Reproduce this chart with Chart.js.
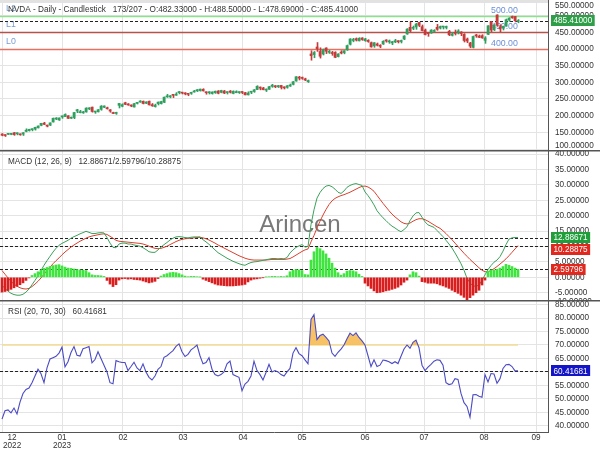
<!DOCTYPE html>
<html>
<head>
<meta charset="utf-8">
<script src="https://cdn.jsdelivr.net/npm/chart.js@4.4.1/dist/chart.umd.min.js"></script>
<style>
html,body{margin:0;padding:0;background:#ffffff;}
#wrap{position:relative;width:600px;height:450px;overflow:hidden;background:#fff;}
#wrap canvas{position:absolute;left:0;}
</style>
</head>
<body>
<div id="wrap">
  <canvas id="cPrice" width="600" height="150" style="top:0px"></canvas>
  <canvas id="cMacd" width="600" height="150" style="top:150px"></canvas>
  <canvas id="cRsi" width="600" height="150" style="top:300px"></canvas>
</div>
<script>
// ---------------- DATA ----------------
const symbolTitle = 'NVDA - Daily - Candlestick';
const barInfo = '173/207';
const lastOpen = 482.33, lastHigh = 488.5, lastLow = 478.69, lastClose = 485.41;

const monthTickIndex = [0.33, 20, 40.33, 60.33, 80.33, 100, 121, 140.67, 160.67, 178];
const monthLabels = [['12','2022'],['01','2023'],['02'],['03'],['04'],['05'],['06'],['07'],['08'],['09']];

const priceTicks = [100,150,200,250,300,350,400,450,500];
const priceTopTick = 550;
const macdTicks = [-5,0,5,10,15,20,25,30,35,40];
const macdBottomTick = -10;
const rsiTicks = [40,45,50,55,60,65,70,75,80,85];

const levelNames = ['L0','L1','L2'];
const levelValues = [400, 450, 500];

const priceOpen = [145.0,140.8,144.0,143.9,148.5,145.7,144.9,144.7,152.8,155.1,
158.0,159.6,163.5,171.0,177.6,170.0,171.8,181.0,189.9,187.1,
196.1,197.3,199.5,192.3,194.4,214.0,209.1,208.5,211.4,220.3,
225.6,211.0,211.5,219.0,225.1,222.5,217.5,208.0,206.8,231.0,
228.3,238.7,233.4,231.9,226.0,236.8,240.8,243.1,237.2,243.3,
233.0,227.1,236.3,236.1,240.2,256.4,256.5,261.8,261.3,269.2,
268.8,268.0,265.0,267.0,271.0,274.5,275.1,279.0,270.1,268.7,
266.3,269.0,273.8,270.0,273.9,269.2,273.6,266.7,269.2,269.3,
270.8,269.0,262.5,270.4,272.6,278.4,284.9,283.0,276.5,279.0,
288.0,289.5,287.0,290.7,286.0,284.9,289.0,294.0,304.0,315.4,
313.0,310.4,302.0,385.2,383.3,405.9,392.4,384.9,403.1,390.0,
389.0,389.9,377.2,390.6,389.2,397.6,414.3,425.6,430.9,424.5,
433.0,425.0,426.0,419.0,409.5,415.0,411.0,415.0,425.2,421.4,
418.2,421.0,423.0,422.5,430.0,445.0,465.0,462.0,466.0,479.6,
467.0,457.0,447.0,448.0,453.0,465.0,463.0,466.0,464.6,453.0,
441.0,450.0,448.0,451.0,444.0,430.0,418.0,404.9,440.0,439.0,
440.0,426.0,444.0,482.0,458.0,502.2,466.0,464.0,469.0,487.0,
497.4,497.6,482.33];
const priceHigh = [146.0,142.4,146.9,146.3,149.9,148.5,145.0,149.4,160.6,159.5,
160.3,165.5,169.3,177.2,180.0,171.9,178.5,193.0,194.2,193.3,
199.6,205.6,200.0,196.0,210.0,219.0,216.1,212.8,223.8,224.0,
225.9,213.0,218.6,230.3,229.5,225.7,218.4,210.5,210.5,237.0,
235.5,240.4,236.2,232.4,236.9,240.0,245.1,244.3,241.9,244.0,
236.5,234.7,241.3,243.4,256.2,263.9,260.4,262.1,269.1,272.5,
269.7,269.0,265.5,270.4,276.0,278.3,280.0,280.9,271.2,272.0,
271.6,274.0,275.4,276.4,275.8,271.2,275.6,274.5,274.7,271.4,
271.6,270.0,271.7,273.0,278.4,290.0,286.3,285.0,280.5,287.9,
294.0,290.3,291.0,291.0,286.5,290.5,295.0,302.5,317.0,318.0,
316.0,312.5,307.0,394.8,392.6,419.4,403.6,400.0,403.7,396.0,
393.0,392.0,386.0,395.0,395.0,412.0,431.0,432.0,433.2,434.0,
434.0,432.0,428.0,421.0,419.2,418.0,413.0,425.0,428.0,427.0,
422.8,429.0,425.0,427.0,440.0,461.0,480.9,469.0,477.0,480.4,
472.0,460.0,449.0,458.0,458.0,473.9,469.0,468.0,469.0,456.0,
450.0,457.0,458.0,452.0,446.0,433.0,420.0,439.0,444.0,442.0,
443.0,437.0,470.0,482.3,473.0,502.7,473.0,468.5,490.0,494.0,
499.0,498.0,488.5];
const priceLow = [139.5,137.5,143.4,142.7,140.9,142.4,141.1,140.6,151.4,153.6,
154.4,156.6,162.9,169.5,173.0,166.3,170.2,180.8,188.0,185.7,
192.0,197.1,191.6,191.3,191.0,209.0,208.3,206.9,210.2,218.0,
210.5,206.9,211.0,216.3,224.0,219.6,210.2,206.0,203.9,223.0,
226.5,233.0,231.0,226.8,225.8,234.9,240.0,235.2,236.1,231.7,
227.9,225.6,232.1,234.8,239.0,254.9,253.5,254.3,260.9,265.3,
265.2,262.4,259.8,263.9,270.5,272.3,273.5,273.6,264.3,264.9,
264.6,266.8,265.4,268.5,266.0,264.9,268.0,265.4,268.5,266.5,
265.9,262.3,261.9,266.0,270.0,278.2,277.5,277.3,272.4,278.8,
285.0,284.0,284.3,280.0,280.0,282.3,287.5,292.2,303.3,307.1,
309.0,305.0,299.5,366.4,373.8,392.8,372.6,382.0,386.2,386.6,
381.0,373.8,376.0,385.2,385.5,395.6,412.0,421.6,424.0,424.0,
426.0,423.0,420.0,405.4,405.0,409.0,404.0,413.5,420.4,417.0,
413.0,419.0,418.0,418.0,428.0,444.0,452.0,458.0,459.0,467.0,
454.0,442.0,438.0,447.0,451.0,456.0,460.0,460.0,460.0,440.0,
439.0,442.0,445.0,440.0,421.0,419.0,404.0,403.1,435.0,434.0,
432.0,417.0,443.0,452.0,455.0,468.0,452.0,457.0,468.0,483.0,
492.0,481.3,478.69];
const priceClose = [141.2,140.4,146.0,146.1,143.2,147.5,142.7,148.6,156.3,159.1,
160.0,165.1,169.0,177.0,173.8,168.7,178.4,192.2,191.9,193.2,
198.0,203.7,191.9,195.4,209.4,217.7,211.0,210.7,222.6,220.9,
212.6,211.0,217.8,228.6,229.0,220.7,213.9,206.5,207.5,236.6,
232.9,234.0,232.2,229.0,236.1,239.0,242.5,236.5,241.0,232.5,
229.6,231.6,240.6,242.3,255.4,257.3,259.0,261.0,264.8,271.9,
267.8,265.3,264.1,269.8,273.8,277.8,279.6,274.5,268.8,270.4,
270.9,273.2,267.3,275.5,267.8,270.3,270.3,273.2,271.7,270.4,
269.6,262.4,267.8,272.3,277.5,288.0,282.6,278.1,276.6,287.0,
291.5,286.7,289.9,285.0,283.4,289.5,292.1,301.8,316.8,312.6,
311.8,306.9,305.4,379.8,389.5,401.1,378.3,397.7,393.3,391.7,
386.5,374.8,385.1,387.7,394.8,410.2,430.0,426.5,426.9,432.0,
428.4,430.3,422.5,406.3,418.8,411.2,408.2,423.0,424.1,423.0,
421.8,425.0,421.8,424.0,438.9,459.8,454.7,464.6,474.9,470.8,
455.2,443.1,446.1,456.8,454.5,459.0,467.5,467.3,465.1,442.7,
445.2,446.8,454.2,446.6,425.5,423.9,408.6,437.5,439.4,434.9,
433.4,433.0,469.7,456.7,471.2,471.6,460.2,468.4,487.8,492.6,
493.6,485.1,485.41];

const macdLine = [-2.6,-3.6,-4.5,-5.2,-5.6,-5.8,-5.8,-5.5,-4.8,-3.8,
-2.4,-1.0,0.5,2.2,3.9,5.4,6.8,8.2,9.4,10.4,
11.0,11.5,12.0,12.7,13.2,13.6,14.1,14.5,14.9,14.6,
14.2,14.2,14.4,14.5,14.4,12.9,11.1,9.7,9.6,10.8,
11.1,11.1,10.8,10.8,10.5,10.3,10.1,9.6,9.0,8.3,
8.1,8.1,8.9,9.8,10.6,11.3,12.1,12.7,13.1,13.2,
13.1,12.9,12.8,13.0,13.1,13.1,13.1,12.2,11.5,10.7,
9.8,8.9,8.0,7.4,6.8,6.2,5.7,5.2,4.8,4.4,
4.1,3.9,4.4,4.8,5.0,5.1,5.3,5.5,5.7,5.9,
6.1,6.1,6.0,6.1,6.0,6.4,7.9,8.9,9.7,10.2,
10.6,9.8,10.0,17.1,21.9,25.7,27.5,28.8,29.6,29.8,
29.4,28.6,27.6,27.2,28.0,29.2,29.8,30.2,30.4,30.1,
29.8,27.7,26.5,25.1,23.5,21.6,20.4,19.3,18.4,17.4,
16.6,16.0,15.3,14.8,15.5,16.4,18.4,19.9,20.9,21.0,
19.5,18.0,17.0,16.6,16.2,15.2,14.2,13.2,12.0,10.8,
9.5,7.9,6.2,4.4,2.3,-0.3,-1.8,-2.8,-2.9,-2.5,
-1.0,0.8,2.5,3.8,4.9,5.6,6.7,8.5,10.6,12.4,
12.8,12.9,12.88671];
const macdSignal = [2.2,1.0,-0.2,-1.3,-2.2,-2.9,-3.4,-3.7,-3.8,-3.6,
-3.0,-2.2,-1.3,-0.2,1.0,2.2,3.3,4.4,5.4,6.3,
7.3,8.2,9.0,9.8,10.5,11.1,11.7,12.2,12.7,13.1,
13.4,13.6,13.8,14.0,14.1,13.9,13.3,12.7,12.0,11.7,
11.6,11.5,11.4,11.3,11.2,11.1,11.0,10.8,10.5,10.1,
9.7,9.4,9.3,9.4,9.7,10.1,10.6,11.1,11.6,12.0,
12.3,12.5,12.6,12.7,12.8,12.9,13.0,12.8,12.5,12.1,
11.6,11.1,10.5,10.0,9.5,9.0,8.5,8.0,7.5,7.0,
6.6,6.2,5.9,5.7,5.6,5.6,5.6,5.6,5.6,5.7,
5.8,5.8,5.8,5.8,5.8,5.9,6.1,6.6,7.2,7.8,
8.4,8.9,9.2,11.5,13.6,16.0,18.2,20.2,22.0,23.6,
24.8,25.6,26.1,26.5,26.8,27.2,27.6,28.1,28.6,29.1,
29.5,29.6,29.3,28.7,27.9,26.6,25.3,24.0,22.8,21.6,
20.5,19.6,18.8,18.0,17.5,17.3,17.6,18.2,18.7,19.0,
19.0,18.7,18.2,17.6,17.0,16.4,15.9,15.1,14.2,13.2,
12.2,11.1,10.0,8.9,7.8,6.8,5.8,4.9,4.0,3.1,
2.3,1.8,1.8,2.2,2.8,3.5,4.3,5.1,6.0,7.0,
8.1,9.2,10.28875];
const macdHist = [-4.8,-4.6,-4.3,-3.9,-3.4,-2.9,-2.4,-1.8,-1.0,
-0.2,0.6,1.2,1.8,2.4,2.9,3.2,3.5,3.8,4.0,4.1,
3.7,3.3,3.0,2.9,2.7,2.5,2.4,2.3,2.2,1.5,0.8,0.6,0.6,0.5,0.3,
-1.0,-2.2,-3.0,-2.4,-0.9,
-0.5,-0.4,-0.6,-0.5,-0.7,-0.8,-0.9,-1.2,-1.5,-1.8,-1.6,-1.3,-0.4,
0.4,0.9,1.2,1.5,1.6,1.5,1.2,0.8,0.4,
0.2,0.3,0.3,0.2,0.1,
-0.6,-1.0,-1.4,-1.8,-2.2,-2.5,-2.6,-2.7,-2.8,-2.8,-2.8,-2.7,-2.6,-2.5,-2.3,-1.5,-0.9,-0.6,
-0.5,-0.3,-0.1,0.1,
0.2,0.3,0.3,0.2,0.3,0.2,0.5,
1.8,2.3,2.5,2.4,2.2,0.9,
0.8,5.6,8.3,9.7,9.3,8.6,7.6,6.2,4.6,3.0,1.5,0.7,
1.2,2.0,2.2,2.1,1.8,1.0,0.3,
-1.9,-2.8,-3.6,-4.4,-5.0,-4.9,-4.7,-4.4,-4.2,-3.9,-3.6,-3.2,-2.5,-1.6,-0.9,
0.8,1.8,1.5,0.4,
-1.4,-1.6,-1.9,-1.9,-1.9,-2.1,-2.5,-2.8,-3.2,-3.6,-4.2,-4.7,-5.2,-5.8,-6.5,-7.3,-6.6,-5.8,-5.0,-4.2,-2.5,-0.9,
2.0,2.4,2.4,2.6,3.0,3.5,4.2,3.9,3.5,3.0,2.59796];
const macdLast = 12.88671, histLast = 2.59796, signalLast = 10.28875;

const rsiValues = [42.5,45.6,45.9,44.8,46.6,44.4,48.8,52.0,53.5,54.0,
56.0,58.5,61.0,59.3,56.0,61.5,64.8,65.3,65.8,67.0,
69.2,61.9,63.8,67.2,69.4,66.2,65.9,68.6,69.0,69.4,
63.4,64.6,67.5,65.0,62.5,60.0,56.0,55.6,64.2,63.8,
63.5,63.5,60.5,62.0,63.6,61.5,60.5,63.0,60.0,58.0,
57.0,58.5,61.0,62.0,65.4,66.0,67.0,67.9,69.5,70.4,
67.5,65.7,66.5,68.2,69.0,70.0,66.0,63.0,63.5,65.3,
61.0,59.0,58.5,59.0,60.0,63.0,64.0,59.0,58.5,58.0,
53.0,55.5,56.5,58.5,64.0,60.5,59.0,57.0,59.8,62.8,
60.0,60.5,60.0,59.0,58.5,60.0,61.3,67.0,69.0,66.8,
66.0,64.5,63.0,79.5,81.3,72.0,73.5,74.0,72.8,71.5,
67.0,65.8,67.3,68.5,70.0,72.3,74.4,73.5,74.5,72.8,
71.5,70.0,66.0,62.0,64.5,62.0,62.5,64.4,64.2,63.8,
63.1,63.8,63.1,65.8,68.5,70.0,68.8,71.0,71.8,69.0,
62.5,60.5,61.8,62.8,64.0,64.5,64.3,62.5,56.0,55.3,
55.6,57.5,57.2,52.0,48.6,47.2,43.2,51.5,51.6,51.0,
50.6,59.0,56.3,59.4,59.2,55.8,57.5,61.3,62.7,62.8,
62.0,60.4,60.41681];
const rsiUpper = 70;
const rsiLast = 60.41681;

// ---------------- STYLE ----------------
const FONT = '"Liberation Sans", Arial, sans-serif';
const FS = 8.2;
const GRID = '#e4e4e4';
const AXIS = '#555555';
const TXT = '#333333';
const UP = '#2f9e5e', DOWN = '#c53a3a';
const levelColors = ['#e8705f', '#b5524a', '#8ee08e'];
const levelLabelColor = '#7b9bd1', levelValueColor = '#6d8fd6';
const X_MIN = -2/3, X_MAX = 182;

Chart.defaults.font.family = FONT;

function xAxis(height, showBorder) {
  return {
    type: 'linear', min: X_MIN, max: X_MAX, offset: false,
    grid: { color: GRID, drawTicks: false, offset: false, lineWidth: 1 },
    border: { display: showBorder, color: AXIS, width: 1 },
    ticks: { display: false },
    afterBuildTicks: s => { s.ticks = monthTickIndex.map(v => ({ value: v })); },
    afterFit: s => { s.height = height; s.paddingLeft = 0; s.paddingRight = 0; }
  };
}
// edgeLabels: tick values whose label is drawn by hand, clamped inside the panel
function yAxis(min, max, ticks, edgeLabels) {
  const skip = edgeLabels || [];
  return {
    type: 'linear', position: 'right', min: min, max: max, beginAtZero: false,
    grid: { color: GRID, drawTicks: false },
    border: { display: true, color: AXIS, width: 1 },
    ticks: { padding: 7, color: TXT, autoSkip: false, font: { family: FONT, size: FS },
             callback: v => skip.includes(Number(v)) ? '' : Number(v).toFixed(5) },
    afterBuildTicks: s => { s.ticks = ticks.map(v => ({ value: v })); },
    afterFit: s => { s.width = 52; s.paddingTop = 0; s.paddingBottom = 0; }
  };
}
function baseOpts() {
  return {
    responsive: false, animation: false, devicePixelRatio: 1,
    layout: { padding: 0 },
    plugins: { legend: { display: false }, tooltip: { enabled: false } }
  };
}
function hline(ctx, y, x0, x1, color, width, dash) {
  ctx.save();
  ctx.strokeStyle = color; ctx.lineWidth = width; ctx.setLineDash(dash || []);
  ctx.beginPath(); ctx.moveTo(x0, y); ctx.lineTo(x1, y); ctx.stroke();
  ctx.restore();
}
function text(ctx, s, x, y, color, size, align) {
  ctx.save();
  ctx.font = size + 'px ' + FONT; ctx.fillStyle = color;
  ctx.textAlign = align || 'left'; ctx.textBaseline = 'middle';
  ctx.fillText(s, x, y);
  ctx.restore();
}
function badges(chart, items) {
  const ctx = chart.ctx, y = chart.scales.y, a = chart.chartArea;
  const h = 11; let prevBottom = -100;
  items.forEach(it => {
    let cy = y.getPixelForValue(it.value);
    if (cy - h / 2 < prevBottom + 1) cy = prevBottom + 1 + h / 2;
    ctx.save();
    ctx.font = FS + 'px ' + FONT;
    const w = ctx.measureText(it.text).width + 5;
    ctx.fillStyle = it.bg;
    ctx.fillRect(a.right + 3, Math.round(cy - h / 2), w, h);
    ctx.restore();
    text(ctx, it.text, a.right + 5.5, cy + 0.5, '#ffffff', FS, 'left');
    prevBottom = cy + h / 2;
  });
}
function separator(chart) {
  const ctx = chart.ctx;
  ctx.save(); ctx.fillStyle = AXIS; ctx.fillRect(0, 0, chart.width, 1.5); ctx.restore();
}

const idx = priceClose.map((_, i) => i);

// ---------------- PRICE ----------------
const pricePlugin = {
  id: 'pricePlugin',
  beforeDatasetsDraw(chart) {
    const ctx = chart.ctx, a = chart.chartArea, y = chart.scales.y;
    ctx.save(); ctx.fillStyle = '#e2e2e2'; ctx.fillRect(a.left, 0, a.right - a.left, 3); ctx.restore();
    levelValues.forEach((v, k) => {
      const py = Math.round(y.getPixelForValue(v)) + 0.5;
      hline(ctx, py, a.left, a.right, levelColors[k], 1.5);
      text(ctx, levelNames[k], 6, py - 8, levelLabelColor, 8.8, 'left');
      text(ctx, v.toFixed(2), 491, py - 5.5, levelValueColor, 8.8, 'left');
    });
    hline(ctx, Math.round(y.getPixelForValue(lastClose)) + 0.5, a.left, a.right, '#222', 1, [3, 2]);
  },
  afterDraw(chart) {
    const ctx = chart.ctx, a = chart.chartArea, y = chart.scales.y;
    const hdr = symbolTitle + '   ' + barInfo + ' - O:' + lastOpen.toFixed(5) + ' - H:' + lastHigh.toFixed(5) +
      ' - L:' + lastLow.toFixed(5) + ' - C:' + lastClose.toFixed(5);
    text(ctx, hdr, 8, 10, TXT, FS, 'left');
    text(ctx, priceTopTick.toFixed(5), a.right + 7, Math.max(y.getPixelForValue(priceTopTick), 6), TXT, FS, 'left');
    text(ctx, priceTicks[0].toFixed(5), a.right + 7, Math.min(y.getPixelForValue(priceTicks[0]), a.bottom - 4), TXT, FS, 'left');
    badges(chart, [{ value: lastClose, text: lastClose.toFixed(5), bg: '#2e9e48' }]);
  }
};
new Chart(document.getElementById('cPrice'), {
  type: 'bar',
  data: {
    datasets: [
      { type: 'bar', xAxisID: 'x2', data: idx.map(i => ({ x: i, y: [priceLow[i], priceHigh[i]] })),
        barThickness: 1, grouped: false,
        backgroundColor: c => priceClose[c.dataIndex] >= priceOpen[c.dataIndex] ? UP : DOWN },
      { type: 'bar', xAxisID: 'x', data: idx.map(i => ({ x: i, y: [priceOpen[i], priceClose[i]] })),
        barThickness: 2, grouped: false, minBarLength: 1,
        backgroundColor: c => priceClose[c.dataIndex] >= priceOpen[c.dataIndex] ? UP : DOWN }
    ]
  },
  options: Object.assign(baseOpts(), {
    scales: {
      x: xAxis(0, false),
      x2: { type: 'linear', display: false, min: X_MIN - 1/6, max: X_MAX - 1/6, offset: false },
      y: yAxis(97, 547, priceTicks, [priceTicks[0]])
    }
  }),
  plugins: [pricePlugin]
});

// ---------------- MACD ----------------
const macdPlugin = {
  id: 'macdPlugin',
  beforeDatasetsDraw(chart) {
    const ctx = chart.ctx, a = chart.chartArea, y = chart.scales.y;
    ctx.save();
    ctx.font = '24px ' + FONT; ctx.fillStyle = 'rgba(105,105,105,0.9)';
    ctx.textAlign = 'center'; ctx.textBaseline = 'alphabetic';
    ctx.fillText('Arincen', 300, 82);
    ctx.restore();
    [macdLast, signalLast, histLast].forEach(v =>
      hline(ctx, Math.round(y.getPixelForValue(v)) + 0.5, a.left, a.right, '#222', 1, [3, 2]));
  },
  afterDraw(chart) {
    const ctx = chart.ctx, a = chart.chartArea, y = chart.scales.y;
    separator(chart);
    text(ctx, 'MACD (12, 26, 9)   ' + macdLast.toFixed(5) + '/' + histLast.toFixed(5) + '/' + signalLast.toFixed(5),
      8, 11.5, TXT, FS, 'left');
    text(ctx, macdBottomTick.toFixed(5), a.right + 7, Math.min(y.getPixelForValue(macdBottomTick), a.bottom + 2), TXT, FS, 'left');
    badges(chart, [
      { value: macdLast, text: macdLast.toFixed(5), bg: '#1f9e3a' },
      { value: signalLast, text: signalLast.toFixed(5), bg: '#e0281e' },
      { value: histLast, text: histLast.toFixed(5), bg: '#e0281e' }
    ]);
  }
};
new Chart(document.getElementById('cMacd'), {
  type: 'bar',
  data: {
    datasets: [
      { type: 'line', data: idx.map(i => ({ x: i, y: macdSignal[i] })), borderColor: '#d9412e',
        borderWidth: 1, pointRadius: 0, tension: 0, order: 2 },
      { type: 'line', data: idx.map(i => ({ x: i, y: macdLine[i] })), borderColor: '#3aa15a',
        borderWidth: 1, pointRadius: 0, tension: 0, order: 1 },
      { type: 'bar', data: idx.map(i => ({ x: i, y: macdHist[i] })), barThickness: 2, grouped: false,
        backgroundColor: c => macdHist[c.dataIndex] >= 0 ? '#3fe43f' : '#d81e1e', order: 0 }
    ]
  },
  options: Object.assign(baseOpts(), {
    scales: { x: xAxis(0, false), y: yAxis(-7.36, 41.3, macdTicks) }
  }),
  plugins: [macdPlugin]
});

// ---------------- RSI ----------------
const rsiPlugin = {
  id: 'rsiPlugin',
  beforeDatasetsDraw(chart) {
    const ctx = chart.ctx, a = chart.chartArea, y = chart.scales.y;
    hline(ctx, Math.round(y.getPixelForValue(rsiLast)) + 0.5, a.left, a.right, '#222', 1, [3, 2]);
  },
  afterDraw(chart) {
    const ctx = chart.ctx, a = chart.chartArea, xs = chart.scales.x;
    separator(chart);
    text(ctx, 'RSI (20, 70, 30)   ' + rsiLast.toFixed(5), 8, 11.5, TXT, FS, 'left');
    badges(chart, [{ value: rsiLast, text: rsiLast.toFixed(5), bg: '#1515c8' }]);
    ctx.save();
    ctx.font = FS + 'px ' + FONT;
    monthTickIndex.forEach((v, k) => {
      const lines = monthLabels[k];
      const w = Math.max(...lines.map(l => ctx.measureText(l).width));
      const px = Math.max(xs.getPixelForValue(v), 3 + w / 2);
      lines.forEach((l, j) => text(ctx, l, px, a.bottom + 5.5 + j * 8, TXT, FS, 'center'));
    });
    ctx.restore();
  }
};
new Chart(document.getElementById('cRsi'), {
  type: 'line',
  data: {
    datasets: [
      { data: [{ x: 0, y: rsiUpper }, { x: idx.length - 1, y: rsiUpper }], borderColor: '#f3dc93',
        borderWidth: 1.5, pointRadius: 0, order: 2 },
      { data: idx.map(i => ({ x: i, y: rsiValues[i] })), borderColor: '#4b4bc4', borderWidth: 1.1,
        pointRadius: 0, tension: 0, order: 1,
        fill: { value: rsiUpper, above: 'rgba(246,186,84,0.9)', below: 'rgba(0,0,0,0)' } }
    ]
  },
  options: Object.assign(baseOpts(), {
    scales: { x: xAxis(18, true), y: yAxis(37.7, 86.7, rsiTicks) }
  }),
  plugins: [rsiPlugin]
});
</script>
</body>
</html>
